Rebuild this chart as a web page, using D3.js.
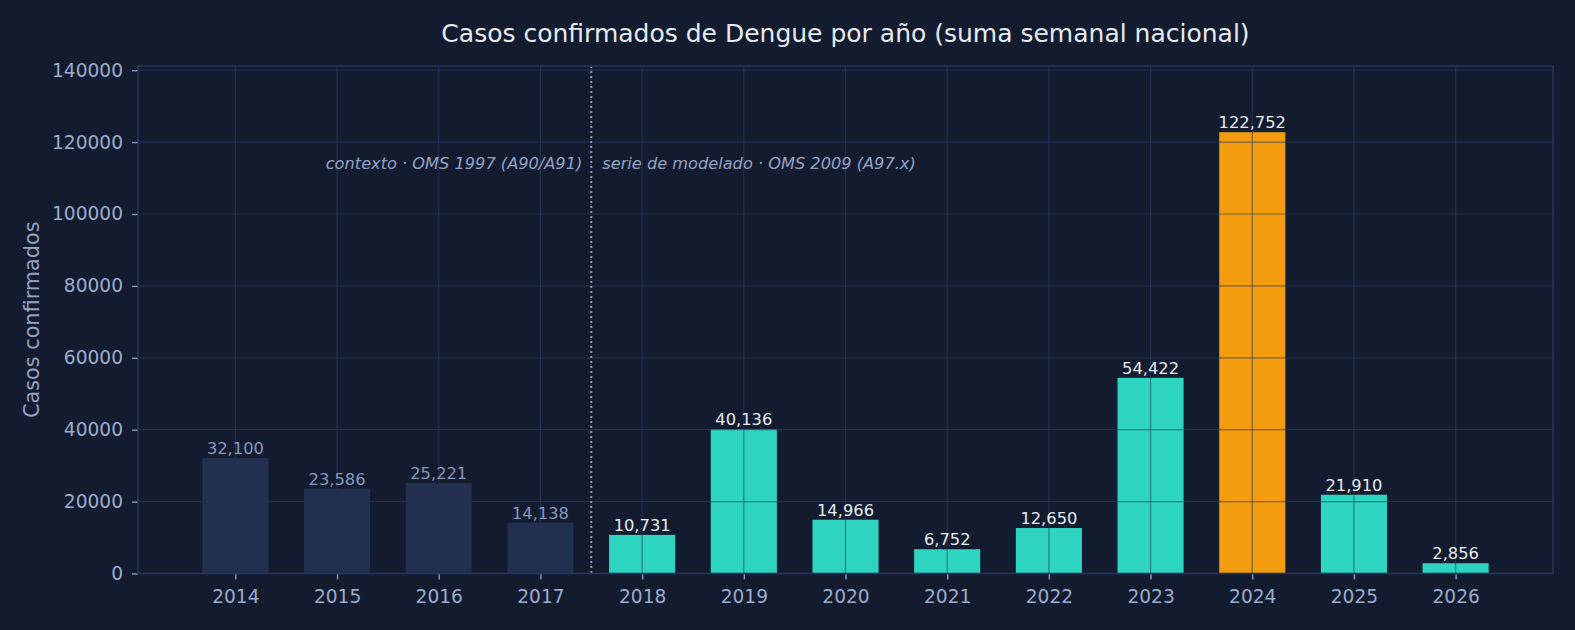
<!DOCTYPE html>
<html lang="en">
<head>
<meta charset="UTF-8">
<title>Dengue por año</title>
<script src="https://cdn.jsdelivr.net/npm/d3@7"></script>
<style>
  body { margin: 0; background: #131c2f; font-family: "DejaVu Sans", sans-serif; }
  svg { display: block; }
</style>
</head>
<body>
<svg id="chart" width="1575" height="630"></svg>
<script>
// data
const years = ["2014","2015","2016","2017","2018","2019","2020","2021","2022","2023","2024","2025","2026"];
const cases = [32100, 23586, 25221, 14138, 10731, 40136, 14966, 6752, 12650, 54422, 122752, 21910, 2856];
const contextYears = ["2014","2015","2016","2017"];   // OMS 1997 series
const peakYear = "2024";
const yTicks = [0, 20000, 40000, 60000, 80000, 100000, 120000, 140000];

const W = 1575, H = 630;
const m = {left: 138, right: 1553, top: 66, bottom: 573.5};

const svg = d3.select("#chart");
svg.append("rect").attr("width", W).attr("height", H).attr("fill", "#131c2f");

const n = years.length;
const barW = 0.65;
const pad = 0.05 * (n - 1 + barW);
const x = d3.scaleLinear()
    .domain([-barW / 2 - pad, n - 1 + barW / 2 + pad])
    .range([m.left, m.right]);
const y = d3.scaleLinear()
    .domain([0, d3.max(cases) * 1.15])
    .range([m.bottom, m.top]);

const data = years.map((yr, i) => ({year: yr, i: i, v: cases[i]}));
const isCtx = d => contextYears.includes(d.year);
const colorOf = d => isCtx(d) ? "#22304f" : (d.year === peakYear ? "#f39c0f" : "#2dd4bf");

// modern bars (grid goes over these)
svg.append("g").selectAll("rect")
    .data(data.filter(d => !isCtx(d)))
    .join("rect")
    .attr("x", d => x(d.i - barW / 2))
    .attr("width", d => x(d.i + barW / 2) - x(d.i - barW / 2))
    .attr("y", d => y(d.v))
    .attr("height", d => y(0) - y(d.v))
    .attr("fill", colorOf);

// grid
const grid = svg.append("g").attr("stroke", "#2a3d62").attr("stroke-opacity", 0.6).attr("stroke-width", 1.2);
grid.selectAll("line.h").data(yTicks).join("line")
    .attr("x1", m.left).attr("x2", m.right)
    .attr("y1", d => y(d)).attr("y2", d => y(d));
grid.selectAll("line.v").data(data).join("line")
    .attr("y1", m.top).attr("y2", m.bottom)
    .attr("x1", d => x(d.i)).attr("x2", d => x(d.i));

// context bars on top of the grid
svg.append("g").selectAll("rect")
    .data(data.filter(isCtx))
    .join("rect")
    .attr("x", d => x(d.i - barW / 2))
    .attr("width", d => x(d.i + barW / 2) - x(d.i - barW / 2))
    .attr("y", d => y(d.v))
    .attr("height", d => y(0) - y(d.v))
    .attr("fill", colorOf);

// value labels
svg.append("g").selectAll("text")
    .data(data)
    .join("text")
    .attr("x", d => x(d.i))
    .attr("y", d => y(d.v) - 4)
    .attr("text-anchor", "middle")
    .attr("font-size", 16.3)
    .attr("fill", d => isCtx(d) ? "#8797bb" : "#e6ebf3")
    .text(d => d3.format(",")(d.v));

// separator between the two series
const sepX = x((contextYears.length - 1 + contextYears.length) / 2);
svg.append("line")
    .attr("x1", sepX).attr("x2", sepX)
    .attr("y1", m.top).attr("y2", m.bottom)
    .attr("stroke", "#8797b5").attr("stroke-width", 2)
    .attr("stroke-dasharray", "2,3");

const annY = m.top + (m.bottom - m.top) * 0.194;
svg.append("text")
    .attr("x", sepX - 9).attr("y", annY)
    .attr("text-anchor", "end").attr("dominant-baseline", "middle")
    .attr("font-style", "italic").attr("font-size", 16.2)
    .attr("fill", "#93a3c4")
    .text("contexto · OMS 1997 (A90/A91)");
svg.append("text")
    .attr("x", sepX + 11).attr("y", annY)
    .attr("text-anchor", "start").attr("dominant-baseline", "middle")
    .attr("font-style", "italic").attr("font-size", 16.2)
    .attr("fill", "#93a3c4")
    .text("serie de modelado · OMS 2009 (A97.x)");

// axes
const xAxis = svg.append("g")
    .attr("transform", `translate(0,${m.bottom})`)
    .call(d3.axisBottom(x).tickValues(d3.range(n)).tickFormat(i => years[i]).tickSize(6).tickPadding(10));
const yAxis = svg.append("g")
    .attr("transform", `translate(${m.left},0)`)
    .call(d3.axisLeft(y).tickValues(yTicks).tickFormat(d3.format("d")).tickSize(6).tickPadding(9));
[xAxis, yAxis].forEach(a => {
  a.select(".domain").remove();
  a.selectAll(".tick line").attr("stroke", "#8a9aba").attr("stroke-width", 1.4);
  a.selectAll(".tick text").attr("fill", "#9aabcb").attr("font-size", 18.6).attr("font-family", "DejaVu Sans");
});

// frame
svg.append("rect")
    .attr("x", m.left).attr("y", m.top)
    .attr("width", m.right - m.left).attr("height", m.bottom - m.top)
    .attr("fill", "none").attr("stroke", "#26345a").attr("stroke-width", 1.6);

// titles
svg.append("text")
    .attr("x", (m.left + m.right) / 2).attr("y", 42)
    .attr("text-anchor", "middle")
    .attr("font-size", 25).attr("fill", "#e6ebf3")
    .text("Casos confirmados de Dengue por año (suma semanal nacional)");
svg.append("text")
    .attr("transform", `translate(39,${(m.top + m.bottom) / 2}) rotate(-90)`)
    .attr("text-anchor", "middle")
    .attr("font-size", 20.8).attr("fill", "#93a3c4")
    .text("Casos confirmados");
</script>
</body>
</html>
